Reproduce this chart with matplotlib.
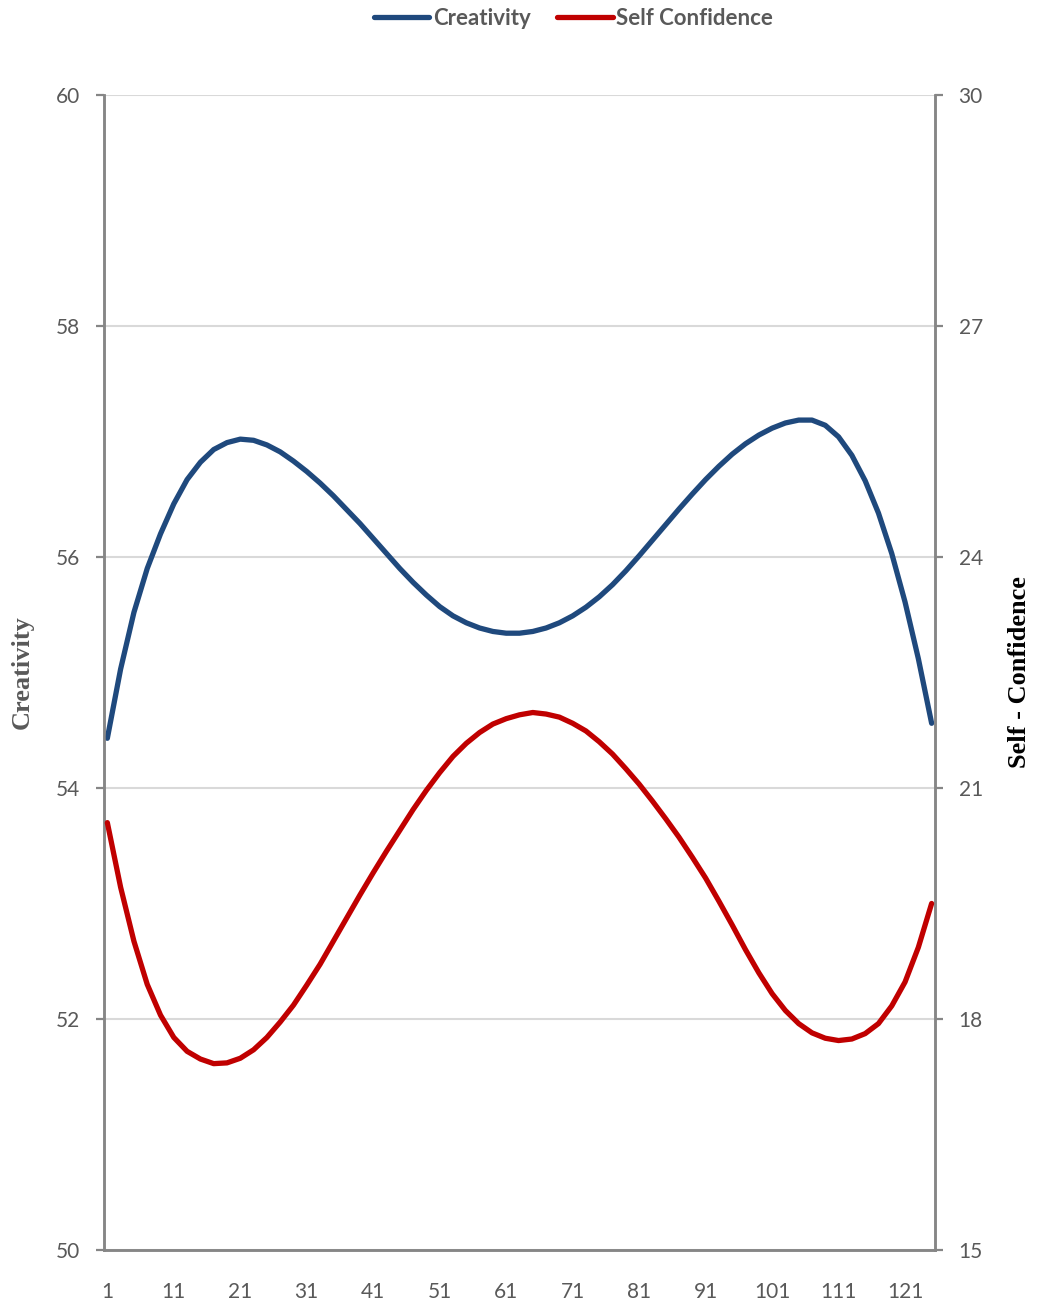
import matplotlib
matplotlib.use("Agg")
import matplotlib.pyplot as plt

# Observation index (every second step shown)
x_idx = list(range(1, 126, 2))

# Creativity scores (left axis)
creativity = [
    54.43, 55.03, 55.52, 55.90, 56.20, 56.46, 56.67, 56.82, 56.93, 56.99,
    57.02, 57.01, 56.97, 56.91, 56.83, 56.74, 56.64, 56.53, 56.41, 56.29,
    56.16, 56.03, 55.90, 55.78, 55.67, 55.57, 55.49, 55.43, 55.385, 55.355,
    55.34, 55.34, 55.355, 55.385, 55.43, 55.49, 55.565, 55.655, 55.76, 55.88,
    56.01, 56.145, 56.28, 56.415, 56.545, 56.67, 56.785, 56.89, 56.98, 57.055,
    57.115, 57.16, 57.185, 57.185, 57.14, 57.04, 56.88, 56.66, 56.38, 56.03,
    55.61, 55.12, 54.56,
]

# Self-confidence scores (right axis)
self_confidence = [
    20.55, 19.71, 19.01, 18.45, 18.05, 17.76, 17.58, 17.48, 17.42, 17.43,
    17.49, 17.60, 17.76, 17.96, 18.18, 18.44, 18.71, 19.01, 19.31, 19.61,
    19.90, 20.18, 20.45, 20.72, 20.97, 21.20, 21.41, 21.58, 21.72, 21.83,
    21.90, 21.95, 21.98, 21.96, 21.92, 21.84, 21.74, 21.60, 21.44, 21.25,
    21.05, 20.83, 20.60, 20.36, 20.10, 19.83, 19.53, 19.22, 18.90, 18.60,
    18.33, 18.11, 17.94, 17.82, 17.75, 17.72, 17.74, 17.81, 17.94, 18.17,
    18.48, 18.93, 19.50,
]

x_ticks = list(range(1, 126, 10))
left_ticks = [50, 52, 54, 56, 58, 60]
right_ticks = [15, 18, 21, 24, 27, 30]

BLUE = "#1F497D"
RED = "#C00000"
AXIS_GRAY = "#868686"
TEXT_GRAY = "#595959"
GRID_GRAY = "#D9D9D9"
TICK_FONT = "Lato"

fig = plt.figure(figsize=(10.37, 13.05), dpi=100)
ax = fig.add_axes([0.1003, 0.04215, 0.8013, 0.8851])
ax2 = ax.twinx()

l1, = ax.plot(x_idx, creativity, color=BLUE, lw=3.8, solid_capstyle="round",
              solid_joinstyle="round", label="Creativity", zorder=3)
l2, = ax2.plot(x_idx, self_confidence, color=RED, lw=3.8, solid_capstyle="round",
               solid_joinstyle="round", label="Self Confidence", zorder=3)

ax.set_xlim(0.5, 125.5)
ax.set_ylim(50, 60)
ax2.set_ylim(15, 30)

ax.set_yticks(left_ticks)
ax2.set_yticks(right_ticks)
ax.set_xticks(x_ticks)
ax.set_xticklabels([str(t) for t in x_ticks])

ax.yaxis.grid(True, color=GRID_GRAY, lw=1.5, zorder=0)
ax.set_axisbelow(True)

for a in (ax, ax2):
    a.spines["top"].set_visible(False)
    for side in ("left", "right", "bottom"):
        a.spines[side].set_color(AXIS_GRAY)
        a.spines[side].set_linewidth(1.8)

ax.tick_params(axis="y", direction="out", length=6, width=1.6, color=AXIS_GRAY,
               labelcolor=TEXT_GRAY, labelsize=15, pad=11)
ax2.tick_params(axis="y", direction="out", length=6, width=1.6, color=AXIS_GRAY,
                labelcolor=TEXT_GRAY, labelsize=15, pad=11)
ax.tick_params(axis="x", length=0, labelcolor=TEXT_GRAY, labelsize=15, pad=23)

for lab in ax.get_xticklabels() + ax.get_yticklabels() + ax2.get_yticklabels():
    lab.set_fontfamily(TICK_FONT)

# Axis titles placed at fixed figure positions
fig.text(0.0212, 0.485, "Creativity", family="Liberation Serif", fontweight="bold",
         fontsize=19, color=TEXT_GRAY, rotation=90, ha="center", va="center")
fig.text(0.9836, 0.485, "Self - Confidence", family="Liberation Serif",
         fontweight="bold", fontsize=19, color="black", rotation=90,
         ha="center", va="center")

leg = fig.legend(handles=[l1, l2], loc="center", bbox_to_anchor=(0.553, 0.986),
                 ncol=2, frameon=False, handlelength=2.5, handletextpad=0.15,
                 columnspacing=1.2,
                 prop={"family": TICK_FONT, "weight": "bold", "size": 16})
for t in leg.get_texts():
    t.set_color(TEXT_GRAY)

fig.savefig("out.png", dpi=100)
